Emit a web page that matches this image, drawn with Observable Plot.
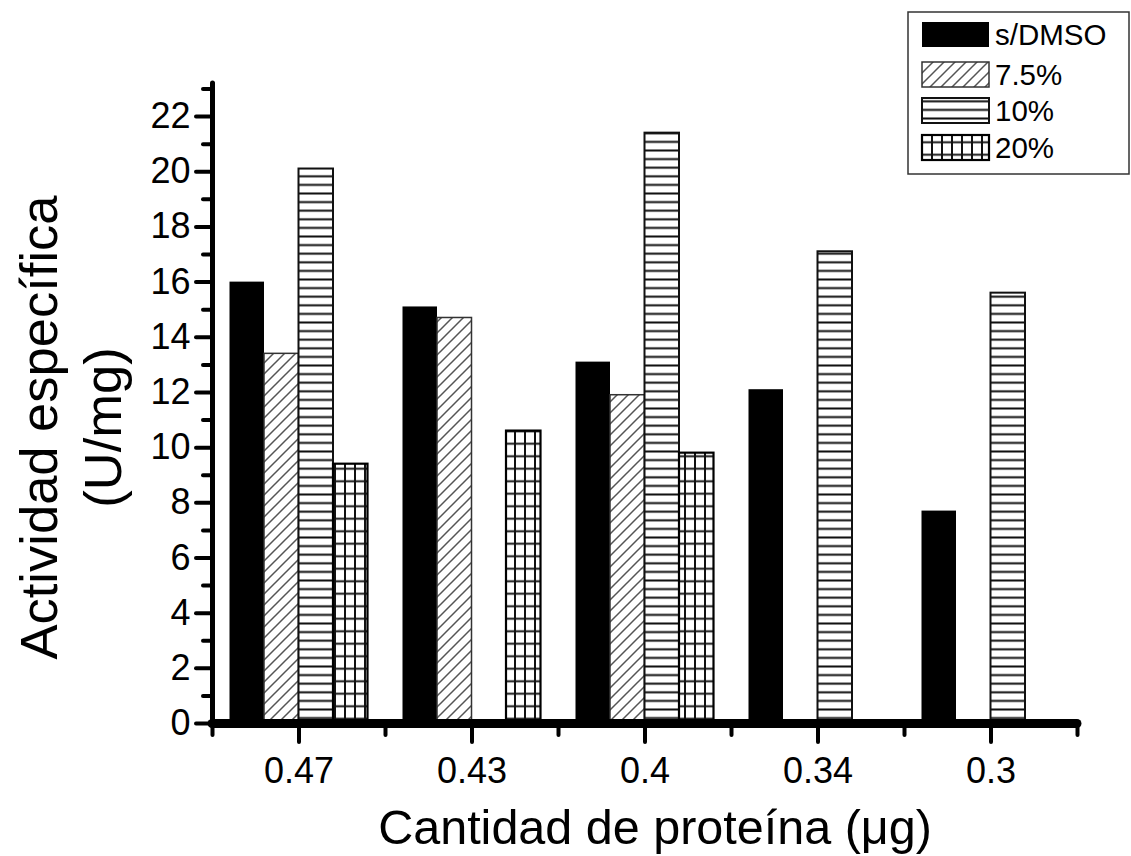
<!DOCTYPE html>
<html><head><meta charset="utf-8">
<script src="https://cdn.jsdelivr.net/npm/d3@7"></script>
<script src="https://cdn.jsdelivr.net/npm/@observablehq/plot@0.6"></script>
<style>
body{margin:0;background:#fff;font-family:"Liberation Sans",Arial,sans-serif;}
#wrap{position:relative;width:1131px;height:856px;}
#legend{position:absolute;left:907px;top:11px;}
</style></head><body><div id="wrap"></div>
<script>
// ---- data ----
const groups = ["0.47", "0.43", "0.4", "0.34", "0.3"];
const seriesNames = ["s/DMSO", "7.5%", "10%", "20%"];
const sDMSO  = [16.0, 15.1, 13.1, 12.1, 7.7];
const dmso75 = [13.4, 14.7, 11.9, null, null];
const dmso10 = [20.1, null, 21.4, 17.1, 15.6];
const dmso20 = [9.4, 10.6, 9.8, null, null];
const yTicks = [0, 2, 4, 6, 8, 10, 12, 14, 16, 18, 20, 22];
const yMinor = [1, 3, 5, 7, 9, 11, 13, 15, 17, 19, 21, 23];
const xLabel = "Cantidad de proteína (μg)";
const yLabel = "Actividad específica\n(U/mg)";

const seriesValues = [sDMSO, dmso75, dmso10, dmso20];
const fills = ["#000", "url(#hatch)", "url(#hlines)", "url(#grid)"];
const strokes = ["#000", "#333", "#111", "#000"];
const strokeWidths = [0, 1.5, 2, 2.2];

const W = 1131, H = 856, mL = 212, mR = 54;
const band = (W - mL - mR) / groups.length;
const groupPad = 17.5;
const barW = (band - 2 * groupPad) / 4;
const font = "'Liberation Sans', Arial, sans-serif";

const barMarks = seriesValues.map((vals, j) => {
  const rows = groups.map((g, i) => ({group: g, series: seriesNames[j], value: vals[i]}))
                     .filter(d => d.value != null);
  return Plot.barY(rows, {
    x: "group", y: "value",
    fill: fills[j], stroke: strokes[j], strokeWidth: strokeWidths[j],
    insetLeft: groupPad + barW * j,
    insetRight: band - groupPad - barW * (j + 1)
  });
});

const svg = Plot.plot({
  width: W, height: H,
  marginLeft: mL, marginRight: mR, marginTop: 83, marginBottom: 133,
  style: {fontFamily: font, fontSize: "36px", color: "#000", background: "#fff", overflow: "visible"},
  x: {type: "band", domain: groups, padding: 0, round: false},
  y: {domain: [0, 23.2]},
  marks: [
    ...barMarks,
    Plot.axisY({ticks: yTicks, tickSize: 16, tickPadding: 6, strokeWidth: 4, strokeLinecap: "round", label: null}),
    Plot.axisY({ticks: yMinor, tickSize: 9, tickFormat: () => "", strokeWidth: 4, strokeLinecap: "round", label: null}),
    Plot.axisX({tickSize: 19, tickPadding: 15, strokeWidth: 4, strokeLinecap: "round", label: null}),
    Plot.axisX({tickSize: 12, tickFormat: () => "", strokeWidth: 4, strokeLinecap: "round", dx: -band / 2, label: null}),
    Plot.axisX({ticks: [groups[groups.length - 1]], tickSize: 12, tickFormat: () => "", strokeWidth: 4, strokeLinecap: "round", dx: band / 2, label: null}),
    Plot.ruleX([groups[0]], {dx: -band / 2, strokeWidth: 5, strokeLinecap: "round", stroke: "#000"}),
    Plot.ruleY([0], {strokeWidth: 9, strokeLinecap: "round", stroke: "#000"}),
    Plot.text([yLabel], {frameAnchor: "left", rotate: -90, dx: -144, dy: 24, fontSize: 52.5, lineHeight: 1.22, lineAnchor: "middle", textAnchor: "middle"}),
    Plot.text([xLabel], {frameAnchor: "bottom", dx: 10, dy: 105, fontSize: 48.5, lineAnchor: "middle", textAnchor: "middle"})
  ]
});

// pattern definitions
const defs = d3.select(svg).insert("defs", ":first-child");
const hatch = defs.append("pattern").attr("id", "hatch").attr("patternUnits", "userSpaceOnUse")
  .attr("width", 11).attr("height", 11);
hatch.append("rect").attr("width", 11).attr("height", 11).attr("fill", "#fff");
hatch.append("path").attr("d", "M-1,12 L12,-1 M-3,3 L3,-3 M8,14 L14,8")
  .attr("stroke", "#555").attr("stroke-width", 1.5);
const hl = defs.append("pattern").attr("id", "hlines").attr("patternUnits", "userSpaceOnUse")
  .attr("width", 10).attr("height", 8.6);
hl.append("rect").attr("width", 10).attr("height", 8.6).attr("fill", "#fff");
hl.append("line").attr("x1", -1).attr("x2", 11).attr("y1", 4.3).attr("y2", 4.3)
  .attr("stroke", "#111").attr("stroke-width", 2);
const gr = defs.append("pattern").attr("id", "grid").attr("patternUnits", "userSpaceOnUse")
  .attr("width", 10).attr("height", 12.5);
gr.append("rect").attr("width", 10).attr("height", 12.5).attr("fill", "#fff");
gr.append("path").attr("d", "M5,-1 V14 M-1,6.25 H11")
  .attr("stroke", "#111").attr("stroke-width", 2);

const wrap = document.getElementById("wrap");
wrap.appendChild(svg);

// legend
const lg = d3.select(wrap).append("svg").attr("id", "legend")
  .attr("width", 223).attr("height", 164);
lg.append("rect").attr("x", 1).attr("y", 1).attr("width", 221).attr("height", 162)
  .attr("fill", "#fff").attr("stroke", "#333").attr("stroke-width", 1.5);
const rowY = [11, 51, 87, 124];
seriesNames.forEach((name, j) => {
  lg.append("rect").attr("x", 15).attr("y", rowY[j]).attr("width", 67).attr("height", 25)
    .attr("fill", fills[j]).attr("stroke", strokes[j]).attr("stroke-width", j ? strokeWidths[j] : 0);
  lg.append("text").attr("x", 88).attr("y", rowY[j] + 12.5).attr("dy", "0.36em")
    .attr("font-size", 29.5).attr("font-family", font).text(name);
});
</script></body></html>
